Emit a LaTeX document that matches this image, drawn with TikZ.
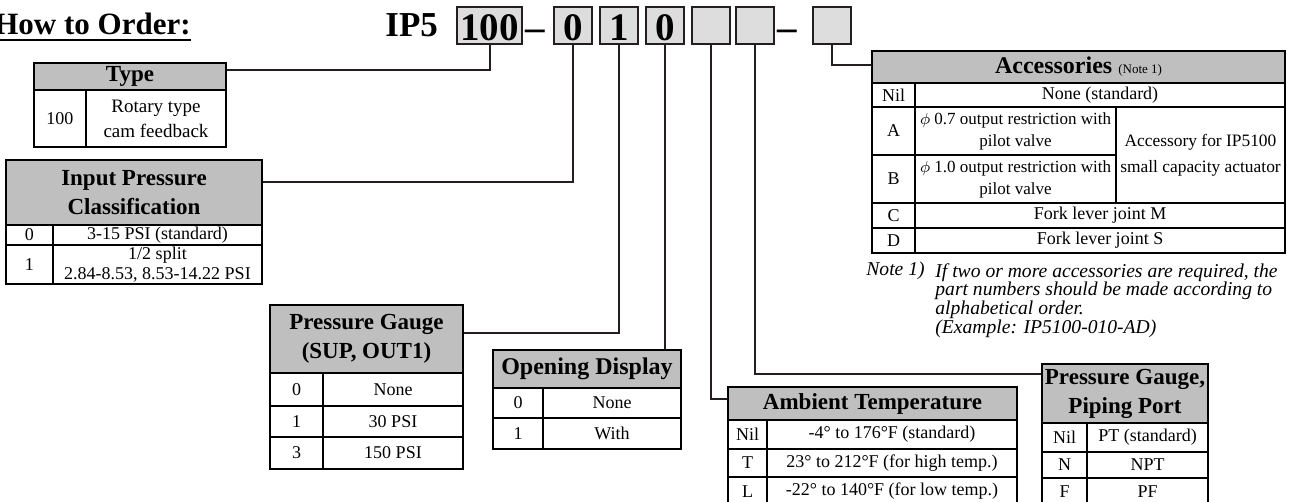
\documentclass[tikz,border=0pt]{standalone}
\usepackage{fontspec}
\setmainfont{Liberation Serif}
\usetikzlibrary{fit}

\definecolor{headgray}{RGB}{191,191,191}
\definecolor{boxgray}{RGB}{221,221,221}
\definecolor{linegray}{RGB}{35,31,32}
\newcommand\headtxt{\fontsize{11.5}{14.5}\selectfont\bfseries}
\newcommand\celltxt{\fontsize{9}{11.5}\selectfont}
\newcommand\codetxt{\fontsize{19.5}{20}\selectfont\bfseries}
\newcommand\notetxt{\fontsize{9.8}{9.4}\selectfont\itshape}

\begin{document}
\begin{tikzpicture}[
  x=0.5pt, y=-0.5pt,
  head/.style={draw=black, line width=1.2pt, fill=headgray, inner sep=0pt},
  cell/.style={draw=black, line width=1.2pt, inner sep=0pt},
  hdtxt/.style={font=\headtxt, align=center, inner sep=0pt},
  txt/.style={font=\celltxt, align=center, inner sep=0pt},
  code/.style={draw=linegray, line width=1pt, fill=boxgray, minimum width=19pt, minimum height=18.5pt,
    inner sep=0pt, text height=15.5pt, text depth=0pt, font=\codetxt},
  link/.style={draw=linegray, line width=1pt}
]
\useasboundingbox (0,0) rectangle (1291,502);

% order code
\node[anchor=base east, inner sep=0pt, font=\fontsize{15.5}{16}\selectfont\bfseries] (title) at (191,35) {How to Order:};
\draw[line width=1.1pt] ([yshift=-2.5pt]title.base west) -- ([yshift=-2.5pt]title.base east);
\node[anchor=base west, inner sep=0pt, font=\fontsize{17.5}{18}\selectfont\bfseries] (ip5) at (385,37) {IP5};
\node[code, minimum width=32.5pt] (b100) at (489.5,25.5) {100};
\node[anchor=base, inner sep=0pt, font=\codetxt] (dash1) at (535,41) {–};
\node[code] (bInput) at (573,25.5) {0};
\node[code] (bGauge) at (619,25.5) {1};
\node[code] (bDisp) at (665,25.5) {0};
\node[code] (bTemp) at (711,25.5) {};
\node[code] (bPort) at (755,25.5) {};
\node[anchor=base, inner sep=0pt, font=\codetxt] (dash2) at (787,41) {–};
\node[code] (bAcc) at (832,25.5) {};

% type
\node[head, fit={(34,63) (226,90)}, label={[hdtxt]center:Type}] (hType) {};
\node[cell, fit={(34,90) (86,147)}, label={[txt]center:100}] (type100) {};
\node[cell, fit={(86,90) (226,147)},
  label={[txt, font=\fontsize{9.5}{12.5}\selectfont]center:Rotary type\\cam feedback}] (typeRot) {};

% input pressure
\node[head, fit={(6,160) (262,225)}, label={[hdtxt]center:Input Pressure\\Classification}] (hInput) {};
\node[cell, fit={(6,225) (53,245)}, label={[txt]center:0}] (input0) {};
\node[cell, fit={(53,225) (262,245)}, label={[txt]center:3-15 PSI (standard)}] (inputv0) {};
\node[cell, fit={(6,245) (53,284)}, label={[txt]center:1}] (input1) {};
\node[cell, fit={(53,245) (262,284)},
  label={[txt, font=\fontsize{9}{10}\selectfont]center:1/2 split\\2.84-8.53, 8.53-14.22 PSI}] (inputv1) {};

% pressure gauge
\node[head, fit={(270,305) (463,373)}, label={[hdtxt]center:Pressure Gauge\\(SUP, OUT1)}] (hGauge) {};
\foreach \k/\v/\ya/\yb in {0/None/373/406, 1/30 PSI/406/437, 3/150 PSI/437/469}{
  \node[cell, fit={(270,\ya) (323,\yb)}, label={[txt]center:\k}] (gauge\k) {};
  \node[cell, fit={(323,\ya) (463,\yb)}, label={[txt]center:\v}] (gaugev\k) {};
}

% opening display
\node[head, fit={(493,350) (681,388)},
  label={[hdtxt, font=\fontsize{12}{14}\selectfont\bfseries]center:Opening Display}] (hDisp) {};
\foreach \k/\v/\ya/\yb in {0/None/388/418, 1/With/418/449}{
  \node[cell, fit={(493,\ya) (543,\yb)}, label={[txt]center:\k}] (disp\k) {};
  \node[cell, fit={(543,\ya) (681,\yb)}, label={[txt]center:\v}] (dispv\k) {};
}

% ambient temperature
\node[head, fit={(728,387) (1017,420)}, label={[hdtxt]center:Ambient Temperature}] (hTemp) {};
\foreach \k/\v/\ya/\yb in {Nil/{-4° to 176°F (standard)}/420/449,
    T/{23° to 212°F (for high temp.)}/449/477, L/{-22° to 140°F (for low temp.)}/477/506}{
  \node[cell, fit={(728,\ya) (767,\yb)}, label={[txt]center:\k}] (temp\k) {};
  \node[cell, fit={(767,\ya) (1017,\yb)}, label={[txt]center:\v}] (tempv\k) {};
}

% piping port
\node[head, fit={(1042,364) (1208,423)}, label={[hdtxt]center:Pressure Gauge,\\Piping Port}] (hPort) {};
\foreach \k/\v/\ya/\yb in {Nil/PT (standard)/423/452, N/NPT/452/478, F/PF/478/506}{
  \node[cell, fit={(1042,\ya) (1087,\yb)}, label={[txt]center:\k}] (port\k) {};
  \node[cell, fit={(1087,\ya) (1208,\yb)}, label={[txt]center:\v}] (portv\k) {};
}

% accessories
\node[head, fit={(872,51) (1285,83)},
  label={[hdtxt, font=\fontsize{12}{14}\selectfont\bfseries]center:{Accessories {\fontsize{6.5}{7}\selectfont\mdseries (Note 1)}}}] (hAcc) {};
\node[cell, fit={(872,83) (915,107)}, label={[txt]center:Nil}] (accNil) {};
\node[cell, fit={(915,83) (1285,107)}, label={[txt]center:None (standard)}] (accvNil) {};
\node[cell, fit={(872,107) (915,155)}, label={[txt]center:A}] (accA) {};
\node[cell, fit={(915,107) (1116,155)},
  label={[txt, font=\fontsize{8.5}{11}\selectfont]center:$\phi$ 0.7 output restriction with\\pilot valve}] (accvA) {};
\node[cell, fit={(872,155) (915,203)}, label={[txt]center:B}] (accB) {};
\node[cell, fit={(915,155) (1116,203)},
  label={[txt, font=\fontsize{8.5}{11}\selectfont]center:$\phi$ 1.0 output restriction with\\pilot valve}] (accvB) {};
\node[cell, fit={(1116,107) (1285,203)},
  label={[txt, font=\fontsize{8.7}{13}\selectfont]center:Accessory for IP5100\\small capacity actuator}] (accSmall) {};
\node[cell, fit={(872,203) (915,228)}, label={[txt]center:C}] (accC) {};
\node[cell, fit={(915,203) (1285,228)}, label={[txt]center:Fork lever joint M}] (accvC) {};
\node[cell, fit={(872,228) (915,253)}, label={[txt]center:D}] (accD) {};
\node[cell, fit={(915,228) (1285,253)}, label={[txt]center:Fork lever joint S}] (accvD) {};

% note
\node[anchor=base west, inner sep=0pt, font=\notetxt] (noteNo) at (866,276) {Note 1)};
\node[anchor=north west, inner sep=0pt, align=left, font=\notetxt] (noteText) at (935,263)
  {If two or more accessories are required, the\\part numbers should be made according to\\alphabetical order.\\(Example: IP5100-010-AD)};

% connectors
\draw[link] (b100.south) |- ([yshift=3.25pt]hType.east);
\draw[link] (bInput.south) |- ([yshift=5pt]hInput.east);
\draw[link] (bGauge.south) |- ([yshift=3pt]hGauge.east);
\draw[link] (bDisp.south) -- (bDisp.south |- hDisp.north);
\draw[link] (bTemp.south) |- ([yshift=2.25pt]hTemp.west);
\draw[link] (bPort.south) |- ([yshift=9.75pt]hPort.west);
\draw[link] (bAcc.south) |- ([yshift=1pt]hAcc.west);

\end{tikzpicture}
\end{document}
